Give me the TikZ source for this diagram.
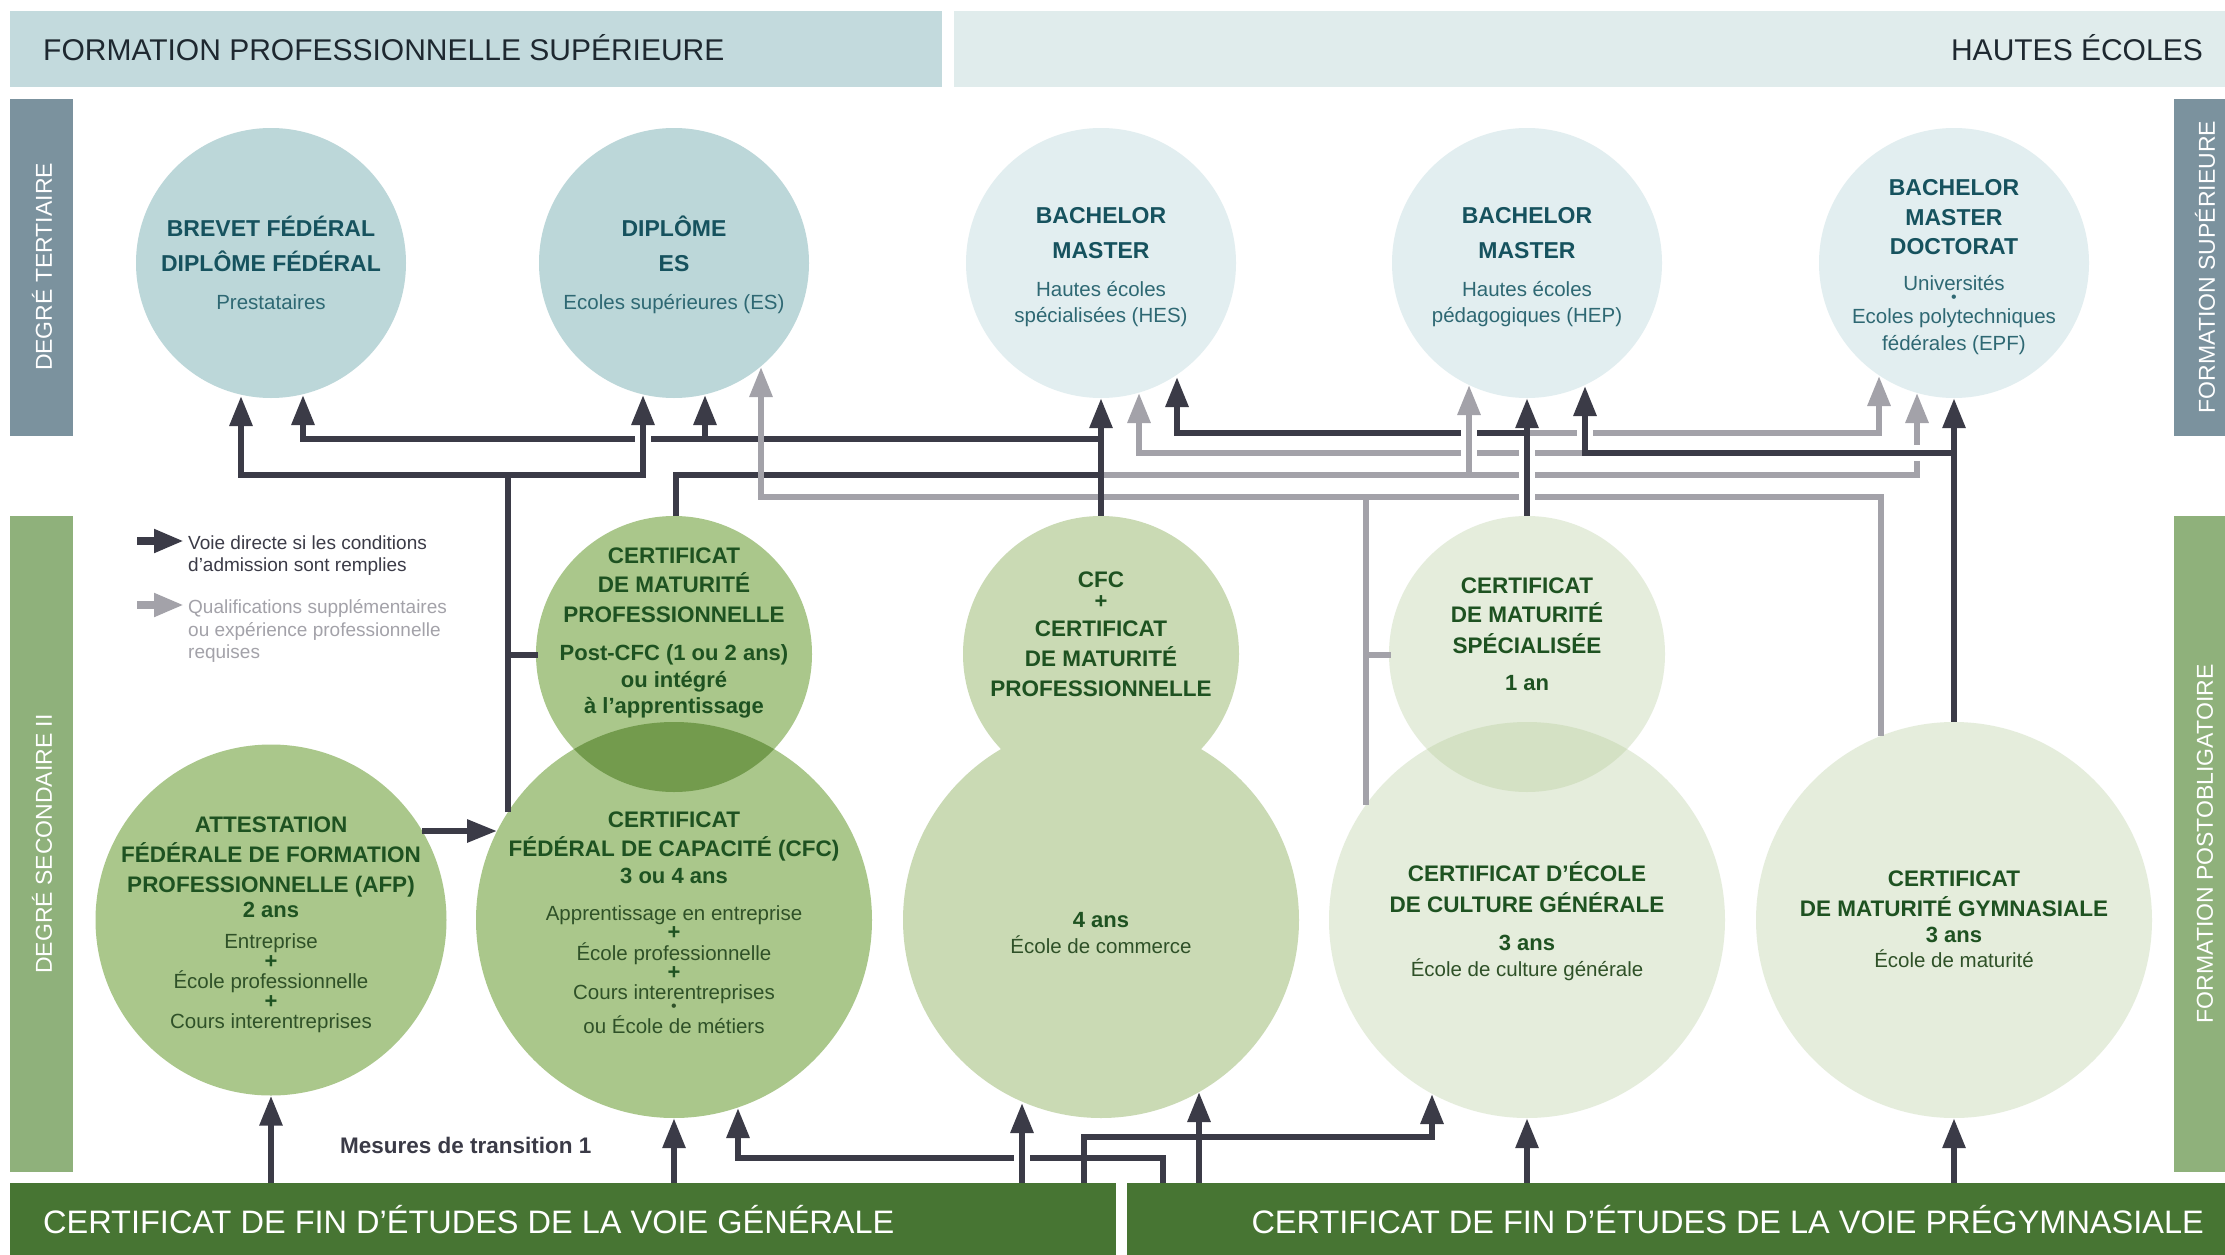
\documentclass[tikz,border=0pt]{standalone}
\usepackage{fontspec}
\setmainfont{Liberation Sans}
\usetikzlibrary{arrows.meta}
\newcommand\fs[1]{\fontsize{#1}{#1}\selectfont}
\newcommand\tline[5]{\node[#1] (#2) at (#3,#4) {#5};}
\newcommand\hgap[3]{\fill[white] (#1-8,#2-4.5) rectangle (#1+8,#2+4.5); \draw[#3] (#1,#2-6) -- (#1,#2+6);}
\newcommand\vgap[3]{\fill[white] (#1-4.5,#2-8) rectangle (#1+4.5,#2+8); \draw[#3] (#1-6,#2) -- (#1+6,#2);}
\definecolor{hdrL}{HTML}{C3DADD}
\definecolor{hdrR}{HTML}{E0ECEC}
\definecolor{hdrT}{HTML}{1E2830}
\definecolor{tealA}{HTML}{BCD7D9}
\definecolor{tealB}{HTML}{E2EEF0}
\definecolor{barG}{HTML}{7B929E}
\definecolor{barV}{HTML}{8FB17B}
\definecolor{gA}{HTML}{AAC78B}
\definecolor{gOv}{HTML}{739B4D}
\definecolor{gB}{HTML}{CADAB4}
\definecolor{gC}{HTML}{E5EDDC}
\definecolor{gCov}{HTML}{D4E1C4}
\definecolor{botG}{HTML}{477533}
\definecolor{dkL}{HTML}{3B3B47}
\definecolor{gyL}{HTML}{A3A2A9}
\definecolor{tealT}{HTML}{16525E}
\definecolor{tealS}{HTML}{2E6873}
\definecolor{grT}{HTML}{1E5221}
\definecolor{grS}{HTML}{2F5128}
\tikzset{
  dk/.style={draw=dkL, line width=6pt},
  gy/.style={draw=gyL, line width=6pt},
  arr/.style={-{Triangle[length=30pt,width=22pt]}},
  circ/.style={circle, inner sep=0pt, draw=none, minimum size=#1},
  hd/.style={font=\fs{30}, text=hdrT, inner sep=0pt},
  sidetxt/.style={font=\fs{23}, text=white, rotate=90, inner sep=0pt},
  bot/.style={font=\fs{32.5}, text=white, inner sep=0pt},
  tt/.style={font=\bfseries\fs{23}, text=tealT, anchor=base, inner sep=0pt},
  ts/.style={font=\fs{20.5}, text=tealS, anchor=base, inner sep=0pt},
  gt/.style={font=\bfseries\fs{22.5}, text=grT, anchor=base, inner sep=0pt},
  gs/.style={font=\fs{20.5}, text=grS, anchor=base, inner sep=0pt},
  gp/.style={font=\bfseries\fs{22}, text=grT, anchor=center, inner sep=0pt},
  leg/.style={font=\fs{19}, anchor=base west, inner sep=0pt},
}
\begin{document}
\begin{tikzpicture}[x=1pt, y=-1pt, line join=miter]
\useasboundingbox (0,0) rectangle (2225,1255);
\fill[white] (0,0) rectangle (2225,1255);
% headers and bars
\fill[hdrL] (10,11) rectangle (942,87);
\fill[hdrR] (954,11) rectangle (2225,87);
\node[hd, anchor=base west] (hl) at (43,60) {FORMATION PROFESSIONNELLE SUPÉRIEURE};
\node[hd, anchor=base east] (hr) at (2203,60) {HAUTES ÉCOLES};
\fill[barG] (10,99) rectangle (73,436);
\fill[barG] (2174,99) rectangle (2225,436);
\fill[barV] (10,516) rectangle (73,1172);
\fill[barV] (2174,516) rectangle (2225,1172);
\node[sidetxt] (s1) at (42,267) {DEGRÉ TERTIAIRE};
\node[sidetxt] (s2) at (2205,267) {FORMATION SUPÉRIEURE};
\node[sidetxt] (s3) at (42,844) {DEGRÉ SECONDAIRE II};
\node[sidetxt] (s4) at (2205,844) {FORMATION POSTOBLIGATOIRE};
\fill[botG] (10,1183) rectangle (1116,1255);
\fill[botG] (1127,1183) rectangle (2225,1255);
\node[bot, anchor=base west] (bl) at (43,1233) {CERTIFICAT DE FIN D’ÉTUDES DE LA VOIE GÉNÉRALE};
\node[bot, anchor=base east] (br) at (2204,1233) {CERTIFICAT DE FIN D’ÉTUDES DE LA VOIE PRÉGYMNASIALE};
% circles
\node[circ=270pt, fill=tealA] (t1) at (271,263) {};
\node[circ=270pt, fill=tealA] (t2) at (674,263) {};
\node[circ=270pt, fill=tealB] (t3) at (1101,263) {};
\node[circ=270pt, fill=tealB] (t4) at (1527,263) {};
\node[circ=270pt, fill=tealB] (t5) at (1954,263) {};
\node[circ=351pt, fill=gA] (b0) at (271,920) {};
\node[circ=396pt, fill=gA] (b1) at (674,920) {};
\node[circ=276pt, fill=gA] (m1) at (674,654) {};
\begin{scope}
\clip (674,654) circle (138pt);
\fill[gOv] (674,920) circle (198pt);
\end{scope}
\node[circ=396pt, fill=gB] (b2) at (1101,920) {};
\node[circ=276pt, fill=gB] (m2) at (1101,654) {};
\node[circ=396pt, fill=gC] (b3) at (1527,920) {};
\node[circ=276pt, fill=gC] (m3) at (1527,654) {};
\begin{scope}
\clip (1527,654) circle (138pt);
\fill[gCov] (1527,920) circle (198pt);
\end{scope}
\node[circ=396pt, fill=gC] (b4) at (1954,920) {};
% upper connectors
\draw[dk] (508,812) -- (508,472);
\draw[dk] (508,655) -- (538,655);
\draw[dk,arr] (508,475) -- (241,475) -- (241,396);
\draw[dk,arr] (505,475) -- (643,475) -- (643,395);
\draw[dk,arr] (1101,439) -- (303,439) -- (303,395);
\draw[dk,arr] (705,439) -- (705,395);
\draw[dk] (676,516) -- (676,475) -- (1101,475);
\draw[gy,arr] (1104,475) -- (1917,475) -- (1917,393);
\draw[gy,arr] (1469,475) -- (1469,385);
\draw[dk,arr] (1527,433) -- (1177,433) -- (1177,377);
\draw[gy,arr] (1530,433) -- (1879,433) -- (1879,376);
\draw[dk,arr] (1954,453) -- (1585,453) -- (1585,386);
\draw[gy,arr] (1582,453) -- (1139,453) -- (1139,393);
\draw[gy,arr] (1881,736) -- (1881,497) -- (761,497) -- (761,367);
\draw[gy] (1366,494) -- (1366,805);
\draw[gy] (1366,655) -- (1391,655);
\draw[dk,arr] (m2.north) -- (t3.south);
\draw[dk,arr] (m3.north) -- (t4.south);
\draw[dk,arr] (b4.north) -- (t5.south);
\hgap{643}{439}{dk}
\hgap{1527}{497}{dk}
\hgap{1527}{475}{dk}
\hgap{1527}{453}{dk}
\hgap{1469}{453}{gy}
\hgap{1469}{433}{gy}
\hgap{1585}{433}{dk}
\vgap{1917}{453}{dk}
% AFP -> CFC
\draw[dk,arr] (422,831) -- (497,831);
% lower connectors
\draw[dk,arr] (271,1183) -- (b0.south);
\draw[dk,arr] (674,1183) -- (b1.south);
\draw[dk,arr] (1163,1183) -- (1163,1158) -- (738,1158) -- (738,1108);
\draw[dk,arr] (1084,1183) -- (1084,1137) -- (1432,1137) -- (1432,1094);
\draw[dk,arr] (1022,1183) -- (1022,1103);
\hgap{1022}{1158}{dk}
\draw[dk,arr] (1199,1183) -- (1199,1092);
\draw[dk,arr] (1527,1183) -- (b3.south);
\draw[dk,arr] (1954,1183) -- (b4.south);
% legend
\coordinate (la1) at (137,541); \coordinate (la2) at (184,541);
\coordinate (lb1) at (137,605); \coordinate (lb2) at (184,605);
\draw[draw=dkL, line width=8pt, arr] (la1) -- (la2);
\draw[draw=gyL, line width=8pt, arr] (lb1) -- (lb2);
\tline{leg, text=dkL}{lg1}{188}{549}{Voie directe si les conditions}
\tline{leg, text=dkL}{lg2}{188}{571}{d’admission sont remplies}
\tline{leg, text=gyL}{lg3}{188}{613}{Qualifications supplémentaires}
\tline{leg, text=gyL}{lg4}{188}{636}{ou expérience professionnelle}
\tline{leg, text=gyL}{lg5}{188}{658}{requises}
\node[font=\bfseries\fs{22.5}, text=dkL, anchor=base west, inner sep=0pt] (mt) at (340,1153) {Mesures de transition 1};
% texts top circles
\tline{tt}{t1a}{271}{236}{BREVET FÉDÉRAL}
\tline{tt}{t1b}{271}{271}{DIPLÔME FÉDÉRAL}
\tline{ts}{t1c}{271}{309}{Prestataires}
\tline{tt}{t2a}{674}{236}{DIPLÔME}
\tline{tt}{t2b}{674}{271}{ES}
\tline{ts}{t2c}{674}{309}{Ecoles supérieures (ES)}
\tline{tt}{t3a}{1101}{223}{BACHELOR}
\tline{tt}{t3b}{1101}{258}{MASTER}
\tline{ts}{t3c}{1101}{296}{Hautes écoles}
\tline{ts}{t3d}{1101}{322}{spécialisées (HES)}
\tline{tt}{t4a}{1527}{223}{BACHELOR}
\tline{tt}{t4b}{1527}{258}{MASTER}
\tline{ts}{t4c}{1527}{296}{Hautes écoles}
\tline{ts}{t4d}{1527}{322}{pédagogiques (HEP)}
\tline{tt}{t5a}{1954}{195}{BACHELOR}
\tline{tt}{t5b}{1954}{225}{MASTER}
\tline{tt}{t5c}{1954}{254}{DOCTORAT}
\tline{ts}{t5d}{1954}{290}{Universités}
\node[font=\fs{16}, text=tealS, inner sep=0pt] (t5e) at (1954,299) {•};
\tline{ts}{t5f}{1954}{323}{Ecoles polytechniques}
\tline{ts}{t5g}{1954}{350}{fédérales (EPF)}
% middle circles
\tline{gt}{m1a}{674}{563}{CERTIFICAT}
\tline{gt}{m1b}{674}{592}{DE MATURITÉ}
\tline{gt}{m1c}{674}{622}{PROFESSIONNELLE}
\tline{gt, font=\bfseries\fs{22}}{m1d}{674}{660}{Post-CFC (1 ou 2 ans)}
\tline{gt, font=\bfseries\fs{22}}{m1e}{674}{687}{ou intégré}
\tline{gt, font=\bfseries\fs{22}}{m1f}{674}{713}{à l’apprentissage}
\tline{gt}{m2a}{1101}{587}{CFC}
\tline{gp}{m2b}{1101}{602}{+}
\tline{gt}{m2c}{1101}{636}{CERTIFICAT}
\tline{gt}{m2d}{1101}{666}{DE MATURITÉ}
\tline{gt}{m2e}{1101}{696}{PROFESSIONNELLE}
\tline{gt}{m3a}{1527}{593}{CERTIFICAT}
\tline{gt}{m3b}{1527}{622}{DE MATURITÉ}
\tline{gt}{m3c}{1527}{653}{SPÉCIALISÉE}
\tline{gt, font=\bfseries\fs{22}}{m3d}{1527}{690}{1 an}
% lower circles
\tline{gt}{b0a}{271}{832}{ATTESTATION}
\tline{gt}{b0b}{271}{862}{FÉDÉRALE DE FORMATION}
\tline{gt}{b0c}{271}{892}{PROFESSIONNELLE (AFP)}
\tline{gt, font=\bfseries\fs{22}}{b0d}{271}{917}{2 ans}
\tline{gs}{b0e}{271}{948}{Entreprise}
\tline{gp}{b0f}{271}{962}{+}
\tline{gs}{b0g}{271}{988}{École professionnelle}
\tline{gp}{b0h}{271}{1002}{+}
\tline{gs}{b0i}{271}{1028}{Cours interentreprises}
\tline{gt}{b1a}{674}{827}{CERTIFICAT}
\tline{gt}{b1b}{674}{856}{FÉDÉRAL DE CAPACITÉ (CFC)}
\tline{gt, font=\bfseries\fs{22}}{b1c}{674}{883}{3 ou 4 ans}
\tline{gs}{b1d}{674}{920}{Apprentissage en entreprise}
\tline{gp}{b1e}{674}{933}{+}
\tline{gs}{b1f}{674}{960}{École professionnelle}
\tline{gp}{b1g}{674}{973}{+}
\tline{gs}{b1h}{674}{999}{Cours interentreprises}
\node[font=\fs{16}, text=grS, inner sep=0pt] (b1i) at (674,1008) {•};
\tline{gs}{b1j}{674}{1033}{ou École de métiers}
\tline{gt, font=\bfseries\fs{22}}{b2a}{1101}{927}{4 ans}
\tline{gs}{b2b}{1101}{953}{École de commerce}
\tline{gt}{b3a}{1527}{881}{CERTIFICAT D’ÉCOLE}
\tline{gt}{b3b}{1527}{912}{DE CULTURE GÉNÉRALE}
\tline{gt, font=\bfseries\fs{22}}{b3c}{1527}{950}{3 ans}
\tline{gs}{b3d}{1527}{976}{École de culture générale}
\tline{gt}{b4a}{1954}{886}{CERTIFICAT}
\tline{gt}{b4b}{1954}{916}{DE MATURITÉ GYMNASIALE}
\tline{gt, font=\bfseries\fs{22}}{b4c}{1954}{942}{3 ans}
\tline{gs}{b4d}{1954}{967}{École de maturité}
\end{tikzpicture}
\end{document}
